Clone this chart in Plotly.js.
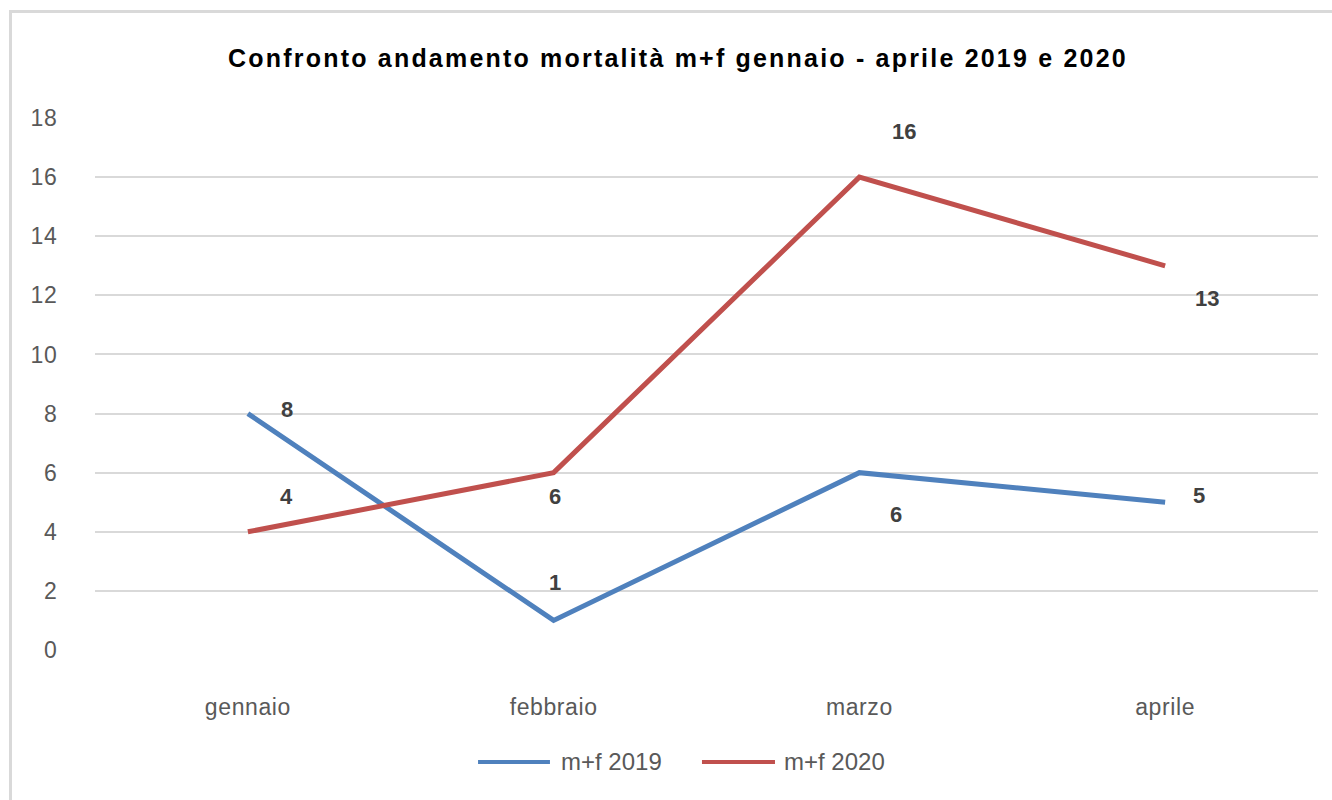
<!DOCTYPE html>
<html>
<head>
<meta charset="utf-8">
<script src="https://cdn.plot.ly/plotly-3.0.1.min.js"></script>
<style>
  html, body { margin: 0; padding: 0; background: #ffffff; overflow: hidden; }
  #frame { position: absolute; left: 9px; top: 10px; width: 1400px; height: 900px;
           border-left: 3px solid #d9d9d9; border-top: 3px solid #d9d9d9; pointer-events: none; z-index: 5; }
  #chart { position: absolute; left: 0; top: 0; width: 1332px; height: 800px; }
  #chart .gtitle { letter-spacing: 2.2px; }
  #chart .xtick text, #chart .ytick text { letter-spacing: 0.6px; }
  #chart .legtext text { letter-spacing: 1px; }
</style>
</head>
<body>
<div id="chart"></div>
<div id="frame"></div>
<script>
// ---- data ----
const chartTitle = "Confronto andamento mortalità m+f gennaio - aprile 2019 e 2020";
const months = ["gennaio", "febbraio", "marzo", "aprile"];
const seriesNames = ["m+f 2019", "m+f 2020"];
const values2019 = [8, 1, 6, 5];
const values2020 = [4, 6, 16, 13];
const yTicks = [0, 2, 4, 6, 8, 10, 12, 14, 16, 18];

// ---- style ----
const colors = ["#4f81bd", "#c0504d"];
// label pixel offsets (dx, dy) per point, per series
const labelOffsets = [
  [[39, 4], [1, 38], [37, -42], [34, 7]],
  [[39, 35], [1, -24], [45, 46], [42, -33]]
];
const seriesValues = [values2019, values2020];

const traces = seriesValues.map((vals, s) => ({
  type: "scatter",
  mode: "lines",
  x: months,
  y: vals,
  name: seriesNames[s],
  line: { color: colors[s], width: 5 },
  showlegend: false,
  hoverinfo: "x+y"
}));

const annotations = [];
seriesValues.forEach((vals, s) => {
  vals.forEach((v, i) => {
    annotations.push({
      x: months[i], y: v, xref: "x", yref: "y",
      text: "<b>" + String(v) + "</b>", showarrow: false,
      xshift: labelOffsets[s][i][0], yshift: labelOffsets[s][i][1],
      font: { family: "Liberation Sans, Arial, sans-serif", size: 22, color: "#404040" }
    });
  });
});

// custom legend (line samples + names)
const legendY = -0.2105;
const legendLines = [[0.3132, 0.372], [0.4963, 0.556]];
const legendTextX = [0.3794, 0.5617];
const shapes = [];
seriesNames.forEach((n, s) => {
  shapes.push({
    type: "line", xref: "paper", yref: "paper",
    x0: legendLines[s][0], x1: legendLines[s][1], y0: legendY, y1: legendY,
    line: { color: colors[s], width: 4 }
  });
  annotations.push({
    xref: "paper", yref: "paper", x: legendTextX[s], y: legendY,
    xanchor: "left", yanchor: "middle", showarrow: false, text: n,
    font: { family: "Liberation Sans, Arial, sans-serif", size: 24, color: "#595959" }
  });
});

const layout = {
  width: 1332, height: 800,
  margin: { l: 95, r: 14, t: 118, b: 150 },
  paper_bgcolor: "#ffffff", plot_bgcolor: "#ffffff",
  title: {
    text: "<b>" + chartTitle + "</b>",
    x: 0.509, xref: "container", xanchor: "center",
    y: 1 - 58 / 800, yref: "container", yanchor: "middle",
    font: { family: "Liberation Sans, Arial, sans-serif", size: 25, color: "#000000" }
  },
  font: { family: "Liberation Sans, Arial, sans-serif" },
  xaxis: {
    type: "category",
    range: [-0.5, 3.5],
    showgrid: false, zeroline: false, showline: false,
    ticks: "outside", ticklen: 36, tickcolor: "rgba(0,0,0,0)",
    tickfont: { size: 23, color: "#595959" },
    fixedrange: true
  },
  yaxis: {
    range: [0, 18],
    tickvals: yTicks,
    ticktext: yTicks.map(String),
    showgrid: true, gridcolor: "#d9d9d9", gridwidth: 2,
    zeroline: false, showline: false,
    ticks: "outside", ticklen: 32, tickcolor: "rgba(0,0,0,0)",
    tickfont: { size: 23, color: "#595959" },
    fixedrange: true
  },
  showlegend: false,
  annotations: annotations,
  shapes: shapes
};

Plotly.newPlot("chart", traces, layout, { displayModeBar: false, staticPlot: true });
</script>
</body>
</html>
